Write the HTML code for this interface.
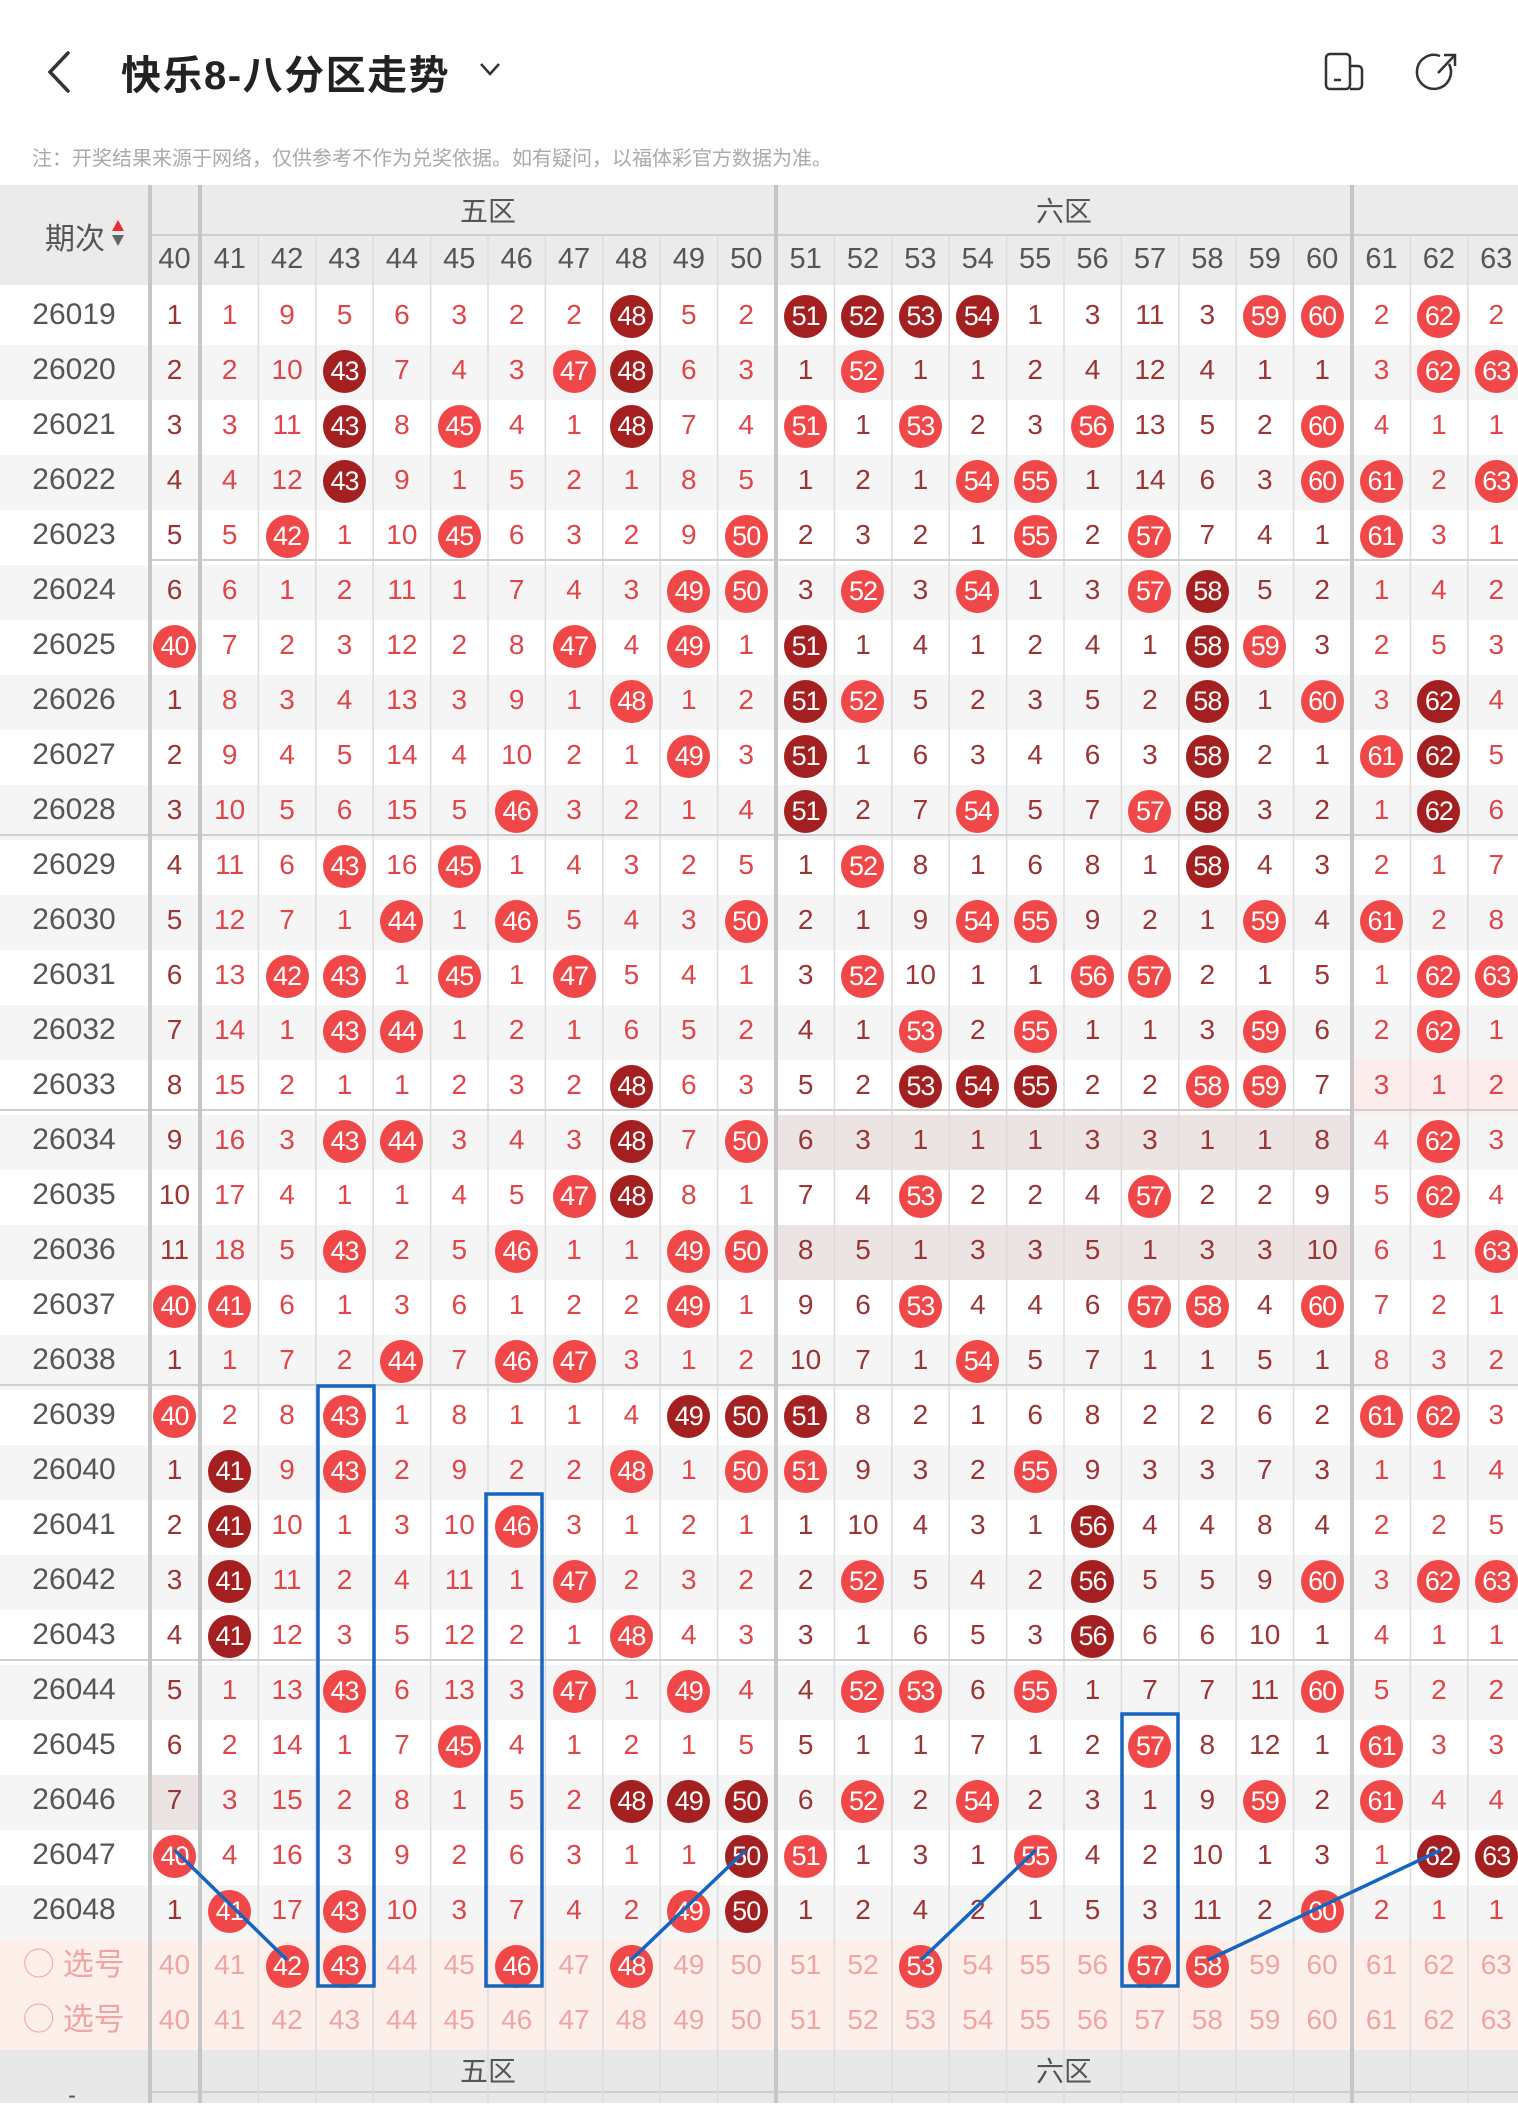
<!DOCTYPE html>
<html><head><meta charset="utf-8"><style>
*{margin:0;padding:0;box-sizing:border-box}
body{width:1518px;height:2103px;overflow:hidden;background:#fff;position:relative;font-family:"Liberation Sans Narrow","Liberation Sans","Noto Sans CJK SC",sans-serif}
.t{position:absolute;left:121px;top:43px;font:bold 40px "Liberation Sans","Noto Sans CJK SC",sans-serif;letter-spacing:1.5px;color:#222;white-space:nowrap}
.note{position:absolute;left:32px;top:142px;font:20px "Liberation Sans","Noto Sans CJK SC",sans-serif;color:#aaa;white-space:nowrap}
.hd{position:absolute;left:0;top:185px;width:1518px;height:100px;background:#ebebeb}
.ft{position:absolute;left:0;top:2045px;width:1518px;height:58px;background:#e8e8e8}
.g{position:absolute;font:28px "Liberation Sans","Noto Sans CJK SC",sans-serif;color:#555;transform:translateX(-50%)}
.rows{position:absolute;left:0;top:235px;width:1540px}
.r{display:flex;height:55px;line-height:49px;white-space:nowrap}
.r:nth-child(odd){background:#f5f5f5}
.r:first-child{background:transparent}
.l{width:148px;text-align:center;font-size:30px;color:#555;flex:none}
u{text-decoration:none;width:57.4px;flex:none;text-align:center;font-size:28px;color:#e0454a}
u:nth-of-type(1){width:53px;color:#9b3434}
u:nth-of-type(n+12):nth-of-type(-n+21){color:#9b3434}
u:nth-of-type(12),u:nth-of-type(22){margin-left:2px}
.h u{color:#555!important;font-size:29px}
b,i{display:inline-block;width:43px;height:43px;border-radius:50%;line-height:43px;color:#fff;font-weight:normal;font-style:normal;font-size:27px;letter-spacing:-1px;vertical-align:middle;margin-top:-1px}
b{background:#f04848}i{background:#a41f1f}
.s{background:#fdefea!important}
.s u,.s .l{color:#f0a4a4!important}
.s .l{font-size:31px;font-family:"Liberation Sans","Noto Sans CJK SC",sans-serif}
.p{background:#ece3e3}
.q{background:#fcecec}
</style></head><body>
<svg style="position:absolute;left:0;top:0" width="1518" height="120">
<polyline points="68,53 50,72 68,91" fill="none" stroke="#333" stroke-width="3.5" stroke-linecap="round"/>
<polyline points="481,64 490,74 499,64" fill="none" stroke="#333" stroke-width="2.5"/>
<rect x="1326" y="54" width="24" height="35" rx="4" fill="none" stroke="#333" stroke-width="2.5"/>
<path d="M1350 66h8a4 4 0 0 1 4 4v15a4 4 0 0 1 -4 4h-8" fill="none" stroke="#333" stroke-width="2.5"/>
<line x1="1334" y1="80" x2="1341" y2="80" stroke="#333" stroke-width="2.5"/>
<path d="M1449 64a17 17 0 1 1 -9 -8" fill="none" stroke="#333" stroke-width="2.5"/>
<line x1="1438" y1="73" x2="1454" y2="56" stroke="#333" stroke-width="2.5"/>
<polyline points="1444,55 1455,55 1455,66" fill="none" stroke="#333" stroke-width="2.5"/>
</svg>
<div class="t">快乐8-八分区走势</div>
<div class="note">注：开奖结果来源于网络，仅供参考不作为兑奖依据。如有疑问，以福体彩官方数据为准。</div>
<div class="hd"></div>
<div class="ft"></div>
<div style="position:absolute;left:150px;top:234px;width:1370px;height:2px;background:#cfcfcf"></div>
<div class="g" style="left:488px;top:190px">五区</div>
<div class="g" style="left:1064px;top:190px">六区</div>
<div class="g" style="left:488px;top:2050px">五区</div>
<div class="g" style="left:1064px;top:2050px">六区</div>
<div style="position:absolute;left:150px;top:2091px;width:1370px;height:2px;background:#cfcfcf"></div>
<div style="position:absolute;left:68px;top:2082px;font-size:24px;color:#555">-</div>
<div style="position:absolute;left:45px;top:214px;font:30px 'Liberation Sans','Noto Sans CJK SC',sans-serif;color:#555">期次</div>
<svg style="position:absolute;left:110px;top:218px" width="16" height="32"><polygon points="8,2 14,13 2,13" fill="#e53030"/><polygon points="2,17 14,17 8,28" fill="#666"/></svg>
<div class="rows">
<div class="r h"><span class="l"></span><u>40</u><u>41</u><u>42</u><u>43</u><u>44</u><u>45</u><u>46</u><u>47</u><u>48</u><u>49</u><u>50</u><u>51</u><u>52</u><u>53</u><u>54</u><u>55</u><u>56</u><u>57</u><u>58</u><u>59</u><u>60</u><u>61</u><u>62</u><u>63</u></div>
<div class="r"><span class="l">26019</span><u>1</u><u>1</u><u>9</u><u>5</u><u>6</u><u>3</u><u>2</u><u>2</u><u><i>48</i></u><u>5</u><u>2</u><u><i>51</i></u><u><i>52</i></u><u><i>53</i></u><u><i>54</i></u><u>1</u><u>3</u><u>11</u><u>3</u><u><b>59</b></u><u><b>60</b></u><u>2</u><u><b>62</b></u><u>2</u></div>
<div class="r"><span class="l">26020</span><u>2</u><u>2</u><u>10</u><u><i>43</i></u><u>7</u><u>4</u><u>3</u><u><b>47</b></u><u><i>48</i></u><u>6</u><u>3</u><u>1</u><u><b>52</b></u><u>1</u><u>1</u><u>2</u><u>4</u><u>12</u><u>4</u><u>1</u><u>1</u><u>3</u><u><b>62</b></u><u><b>63</b></u></div>
<div class="r"><span class="l">26021</span><u>3</u><u>3</u><u>11</u><u><i>43</i></u><u>8</u><u><b>45</b></u><u>4</u><u>1</u><u><i>48</i></u><u>7</u><u>4</u><u><b>51</b></u><u>1</u><u><b>53</b></u><u>2</u><u>3</u><u><b>56</b></u><u>13</u><u>5</u><u>2</u><u><b>60</b></u><u>4</u><u>1</u><u>1</u></div>
<div class="r"><span class="l">26022</span><u>4</u><u>4</u><u>12</u><u><i>43</i></u><u>9</u><u>1</u><u>5</u><u>2</u><u>1</u><u>8</u><u>5</u><u>1</u><u>2</u><u>1</u><u><b>54</b></u><u><b>55</b></u><u>1</u><u>14</u><u>6</u><u>3</u><u><b>60</b></u><u><b>61</b></u><u>2</u><u><b>63</b></u></div>
<div class="r"><span class="l">26023</span><u>5</u><u>5</u><u><b>42</b></u><u>1</u><u>10</u><u><b>45</b></u><u>6</u><u>3</u><u>2</u><u>9</u><u><b>50</b></u><u>2</u><u>3</u><u>2</u><u>1</u><u><b>55</b></u><u>2</u><u><b>57</b></u><u>7</u><u>4</u><u>1</u><u><b>61</b></u><u>3</u><u>1</u></div>
<div class="r"><span class="l">26024</span><u>6</u><u>6</u><u>1</u><u>2</u><u>11</u><u>1</u><u>7</u><u>4</u><u>3</u><u><b>49</b></u><u><b>50</b></u><u>3</u><u><b>52</b></u><u>3</u><u><b>54</b></u><u>1</u><u>3</u><u><b>57</b></u><u><i>58</i></u><u>5</u><u>2</u><u>1</u><u>4</u><u>2</u></div>
<div class="r"><span class="l">26025</span><u><b>40</b></u><u>7</u><u>2</u><u>3</u><u>12</u><u>2</u><u>8</u><u><b>47</b></u><u>4</u><u><b>49</b></u><u>1</u><u><i>51</i></u><u>1</u><u>4</u><u>1</u><u>2</u><u>4</u><u>1</u><u><i>58</i></u><u><b>59</b></u><u>3</u><u>2</u><u>5</u><u>3</u></div>
<div class="r"><span class="l">26026</span><u>1</u><u>8</u><u>3</u><u>4</u><u>13</u><u>3</u><u>9</u><u>1</u><u><b>48</b></u><u>1</u><u>2</u><u><i>51</i></u><u><b>52</b></u><u>5</u><u>2</u><u>3</u><u>5</u><u>2</u><u><i>58</i></u><u>1</u><u><b>60</b></u><u>3</u><u><i>62</i></u><u>4</u></div>
<div class="r"><span class="l">26027</span><u>2</u><u>9</u><u>4</u><u>5</u><u>14</u><u>4</u><u>10</u><u>2</u><u>1</u><u><b>49</b></u><u>3</u><u><i>51</i></u><u>1</u><u>6</u><u>3</u><u>4</u><u>6</u><u>3</u><u><i>58</i></u><u>2</u><u>1</u><u><b>61</b></u><u><i>62</i></u><u>5</u></div>
<div class="r"><span class="l">26028</span><u>3</u><u>10</u><u>5</u><u>6</u><u>15</u><u>5</u><u><b>46</b></u><u>3</u><u>2</u><u>1</u><u>4</u><u><i>51</i></u><u>2</u><u>7</u><u><b>54</b></u><u>5</u><u>7</u><u><b>57</b></u><u><i>58</i></u><u>3</u><u>2</u><u>1</u><u><i>62</i></u><u>6</u></div>
<div class="r"><span class="l">26029</span><u>4</u><u>11</u><u>6</u><u><b>43</b></u><u>16</u><u><b>45</b></u><u>1</u><u>4</u><u>3</u><u>2</u><u>5</u><u>1</u><u><b>52</b></u><u>8</u><u>1</u><u>6</u><u>8</u><u>1</u><u><i>58</i></u><u>4</u><u>3</u><u>2</u><u>1</u><u>7</u></div>
<div class="r"><span class="l">26030</span><u>5</u><u>12</u><u>7</u><u>1</u><u><b>44</b></u><u>1</u><u><b>46</b></u><u>5</u><u>4</u><u>3</u><u><b>50</b></u><u>2</u><u>1</u><u>9</u><u><b>54</b></u><u><b>55</b></u><u>9</u><u>2</u><u>1</u><u><b>59</b></u><u>4</u><u><b>61</b></u><u>2</u><u>8</u></div>
<div class="r"><span class="l">26031</span><u>6</u><u>13</u><u><b>42</b></u><u><b>43</b></u><u>1</u><u><b>45</b></u><u>1</u><u><b>47</b></u><u>5</u><u>4</u><u>1</u><u>3</u><u><b>52</b></u><u>10</u><u>1</u><u>1</u><u><b>56</b></u><u><b>57</b></u><u>2</u><u>1</u><u>5</u><u>1</u><u><b>62</b></u><u><b>63</b></u></div>
<div class="r"><span class="l">26032</span><u>7</u><u>14</u><u>1</u><u><b>43</b></u><u><b>44</b></u><u>1</u><u>2</u><u>1</u><u>6</u><u>5</u><u>2</u><u>4</u><u>1</u><u><b>53</b></u><u>2</u><u><b>55</b></u><u>1</u><u>1</u><u>3</u><u><b>59</b></u><u>6</u><u>2</u><u><b>62</b></u><u>1</u></div>
<div class="r"><span class="l">26033</span><u>8</u><u>15</u><u>2</u><u>1</u><u>1</u><u>2</u><u>3</u><u>2</u><u><i>48</i></u><u>6</u><u>3</u><u>5</u><u>2</u><u><i>53</i></u><u><i>54</i></u><u><i>55</i></u><u>2</u><u>2</u><u><b>58</b></u><u><b>59</b></u><u>7</u><u class="q">3</u><u class="q">1</u><u class="q">2</u></div>
<div class="r"><span class="l">26034</span><u>9</u><u>16</u><u>3</u><u><b>43</b></u><u><b>44</b></u><u>3</u><u>4</u><u>3</u><u><i>48</i></u><u>7</u><u><b>50</b></u><u class="p">6</u><u class="p">3</u><u class="p">1</u><u class="p">1</u><u class="p">1</u><u class="p">3</u><u class="p">3</u><u class="p">1</u><u class="p">1</u><u class="p">8</u><u>4</u><u><b>62</b></u><u>3</u></div>
<div class="r"><span class="l">26035</span><u>10</u><u>17</u><u>4</u><u>1</u><u>1</u><u>4</u><u>5</u><u><b>47</b></u><u><i>48</i></u><u>8</u><u>1</u><u>7</u><u>4</u><u><b>53</b></u><u>2</u><u>2</u><u>4</u><u><b>57</b></u><u>2</u><u>2</u><u>9</u><u>5</u><u><b>62</b></u><u>4</u></div>
<div class="r"><span class="l">26036</span><u>11</u><u>18</u><u>5</u><u><b>43</b></u><u>2</u><u>5</u><u><b>46</b></u><u>1</u><u>1</u><u><b>49</b></u><u><b>50</b></u><u class="p">8</u><u class="p">5</u><u class="p">1</u><u class="p">3</u><u class="p">3</u><u class="p">5</u><u class="p">1</u><u class="p">3</u><u class="p">3</u><u class="p">10</u><u>6</u><u>1</u><u><b>63</b></u></div>
<div class="r"><span class="l">26037</span><u><b>40</b></u><u><b>41</b></u><u>6</u><u>1</u><u>3</u><u>6</u><u>1</u><u>2</u><u>2</u><u><b>49</b></u><u>1</u><u>9</u><u>6</u><u><b>53</b></u><u>4</u><u>4</u><u>6</u><u><b>57</b></u><u><b>58</b></u><u>4</u><u><b>60</b></u><u>7</u><u>2</u><u>1</u></div>
<div class="r"><span class="l">26038</span><u>1</u><u>1</u><u>7</u><u>2</u><u><b>44</b></u><u>7</u><u><b>46</b></u><u><b>47</b></u><u>3</u><u>1</u><u>2</u><u>10</u><u>7</u><u>1</u><u><b>54</b></u><u>5</u><u>7</u><u>1</u><u>1</u><u>5</u><u>1</u><u>8</u><u>3</u><u>2</u></div>
<div class="r"><span class="l">26039</span><u><b>40</b></u><u>2</u><u>8</u><u><b>43</b></u><u>1</u><u>8</u><u>1</u><u>1</u><u>4</u><u><i>49</i></u><u><i>50</i></u><u><i>51</i></u><u>8</u><u>2</u><u>1</u><u>6</u><u>8</u><u>2</u><u>2</u><u>6</u><u>2</u><u><b>61</b></u><u><b>62</b></u><u>3</u></div>
<div class="r"><span class="l">26040</span><u>1</u><u><i>41</i></u><u>9</u><u><b>43</b></u><u>2</u><u>9</u><u>2</u><u>2</u><u><b>48</b></u><u>1</u><u><b>50</b></u><u><b>51</b></u><u>9</u><u>3</u><u>2</u><u><b>55</b></u><u>9</u><u>3</u><u>3</u><u>7</u><u>3</u><u>1</u><u>1</u><u>4</u></div>
<div class="r"><span class="l">26041</span><u>2</u><u><i>41</i></u><u>10</u><u>1</u><u>3</u><u>10</u><u><b>46</b></u><u>3</u><u>1</u><u>2</u><u>1</u><u>1</u><u>10</u><u>4</u><u>3</u><u>1</u><u><i>56</i></u><u>4</u><u>4</u><u>8</u><u>4</u><u>2</u><u>2</u><u>5</u></div>
<div class="r"><span class="l">26042</span><u>3</u><u><i>41</i></u><u>11</u><u>2</u><u>4</u><u>11</u><u>1</u><u><b>47</b></u><u>2</u><u>3</u><u>2</u><u>2</u><u><b>52</b></u><u>5</u><u>4</u><u>2</u><u><i>56</i></u><u>5</u><u>5</u><u>9</u><u><b>60</b></u><u>3</u><u><b>62</b></u><u><b>63</b></u></div>
<div class="r"><span class="l">26043</span><u>4</u><u><i>41</i></u><u>12</u><u>3</u><u>5</u><u>12</u><u>2</u><u>1</u><u><b>48</b></u><u>4</u><u>3</u><u>3</u><u>1</u><u>6</u><u>5</u><u>3</u><u><i>56</i></u><u>6</u><u>6</u><u>10</u><u>1</u><u>4</u><u>1</u><u>1</u></div>
<div class="r"><span class="l">26044</span><u>5</u><u>1</u><u>13</u><u><b>43</b></u><u>6</u><u>13</u><u>3</u><u><b>47</b></u><u>1</u><u><b>49</b></u><u>4</u><u>4</u><u><b>52</b></u><u><b>53</b></u><u>6</u><u><b>55</b></u><u>1</u><u>7</u><u>7</u><u>11</u><u><b>60</b></u><u>5</u><u>2</u><u>2</u></div>
<div class="r"><span class="l">26045</span><u>6</u><u>2</u><u>14</u><u>1</u><u>7</u><u><b>45</b></u><u>4</u><u>1</u><u>2</u><u>1</u><u>5</u><u>5</u><u>1</u><u>1</u><u>7</u><u>1</u><u>2</u><u><b>57</b></u><u>8</u><u>12</u><u>1</u><u><b>61</b></u><u>3</u><u>3</u></div>
<div class="r"><span class="l">26046</span><u class="p">7</u><u>3</u><u>15</u><u>2</u><u>8</u><u>1</u><u>5</u><u>2</u><u><i>48</i></u><u><i>49</i></u><u><i>50</i></u><u>6</u><u><b>52</b></u><u>2</u><u><b>54</b></u><u>2</u><u>3</u><u>1</u><u>9</u><u><b>59</b></u><u>2</u><u><b>61</b></u><u>4</u><u>4</u></div>
<div class="r"><span class="l">26047</span><u><b>40</b></u><u>4</u><u>16</u><u>3</u><u>9</u><u>2</u><u>6</u><u>3</u><u>1</u><u>1</u><u><i>50</i></u><u><b>51</b></u><u>1</u><u>3</u><u>1</u><u><b>55</b></u><u>4</u><u>2</u><u>10</u><u>1</u><u>3</u><u>1</u><u><i>62</i></u><u><i>63</i></u></div>
<div class="r"><span class="l">26048</span><u>1</u><u><b>41</b></u><u>17</u><u><b>43</b></u><u>10</u><u>3</u><u>7</u><u>4</u><u>2</u><u><b>49</b></u><u><i>50</i></u><u>1</u><u>2</u><u>4</u><u>2</u><u>1</u><u>5</u><u>3</u><u>11</u><u>2</u><u><b>60</b></u><u>2</u><u>1</u><u>1</u></div>
<div class="r s"><span class="l">◯ 选号</span><u>40</u><u>41</u><u><b>42</b></u><u><b>43</b></u><u>44</u><u>45</u><u><b>46</b></u><u>47</u><u><b>48</b></u><u>49</u><u>50</u><u>51</u><u>52</u><u><b>53</b></u><u>54</u><u>55</u><u>56</u><u><b>57</b></u><u><b>58</b></u><u>59</u><u>60</u><u>61</u><u>62</u><u>63</u></div>
<div class="r s"><span class="l">◯ 选号</span><u>40</u><u>41</u><u>42</u><u>43</u><u>44</u><u>45</u><u>46</u><u>47</u><u>48</u><u>49</u><u>50</u><u>51</u><u>52</u><u>53</u><u>54</u><u>55</u><u>56</u><u>57</u><u>58</u><u>59</u><u>60</u><u>61</u><u>62</u><u>63</u></div>
</div>
<svg style="position:absolute;left:0;top:0" width="1518" height="2103">
<g stroke="#dcdcdc" stroke-width="1.5">
<line x1="258.4" y1="235" x2="258.4" y2="2103"/><line x1="315.8" y1="235" x2="315.8" y2="2103"/><line x1="373.2" y1="235" x2="373.2" y2="2103"/><line x1="430.6" y1="235" x2="430.6" y2="2103"/><line x1="488" y1="235" x2="488" y2="2103"/><line x1="545.4" y1="235" x2="545.4" y2="2103"/><line x1="602.8" y1="235" x2="602.8" y2="2103"/><line x1="660.2" y1="235" x2="660.2" y2="2103"/><line x1="717.6" y1="235" x2="717.6" y2="2103"/>
<line x1="834.4" y1="235" x2="834.4" y2="2103"/><line x1="891.8" y1="235" x2="891.8" y2="2103"/><line x1="949.2" y1="235" x2="949.2" y2="2103"/><line x1="1006.6" y1="235" x2="1006.6" y2="2103"/><line x1="1064" y1="235" x2="1064" y2="2103"/><line x1="1121.4" y1="235" x2="1121.4" y2="2103"/><line x1="1178.8" y1="235" x2="1178.8" y2="2103"/><line x1="1236.2" y1="235" x2="1236.2" y2="2103"/><line x1="1293.6" y1="235" x2="1293.6" y2="2103"/>
<line x1="1410.4" y1="235" x2="1410.4" y2="2103"/><line x1="1467.8" y1="235" x2="1467.8" y2="2103"/>
</g>
<g stroke="#d0d0d0" stroke-width="2">
<line x1="150" y1="560" x2="1518" y2="560"/><line x1="0" y1="835" x2="1518" y2="835"/><line x1="0" y1="1110" x2="1518" y2="1110"/><line x1="0" y1="1385" x2="1518" y2="1385"/><line x1="0" y1="1660" x2="1518" y2="1660"/>
</g>
<g stroke="#c6c6c6" stroke-width="4">
<line x1="150" y1="185" x2="150" y2="2103"/><line x1="200" y1="185" x2="200" y2="2103"/><line x1="776" y1="185" x2="776" y2="2103"/><line x1="1352" y1="185" x2="1352" y2="2103"/>
</g>
<g fill="none" stroke="#1565c0" stroke-width="3.5">
<rect x="318" y="1386" width="56" height="600"/>
<rect x="486" y="1494" width="56" height="492"/>
<rect x="1122" y="1714" width="56" height="272"/>
<line x1="174.5" y1="1850" x2="287" y2="1960"/>
<line x1="746" y1="1850" x2="631" y2="1960"/>
<line x1="1036" y1="1850" x2="921" y2="1960"/>
<line x1="1441" y1="1850" x2="1208" y2="1960"/>
</g>
</svg>
</body></html>
